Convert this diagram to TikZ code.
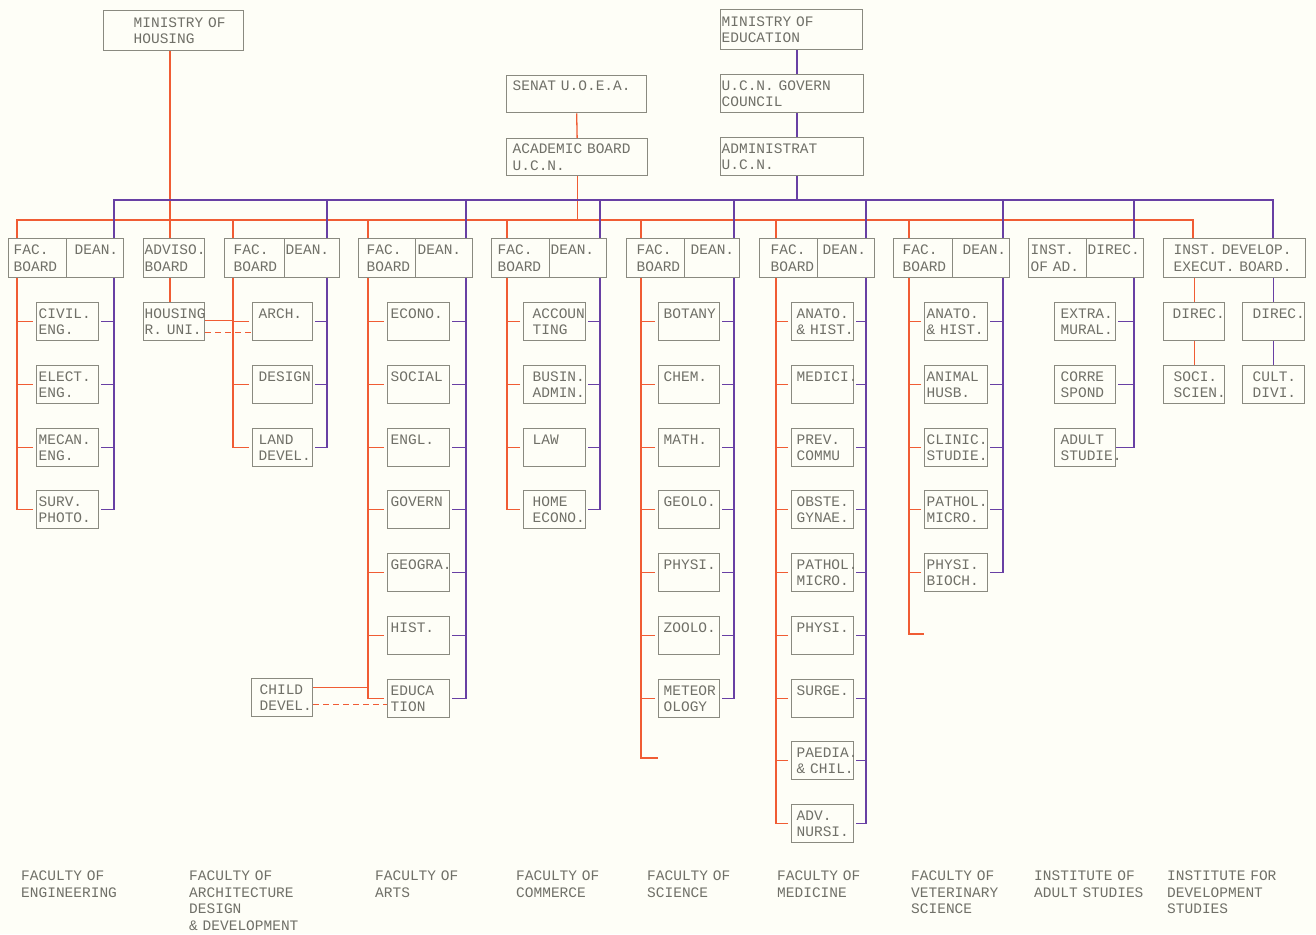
\documentclass[tikz,border=0pt]{standalone}
\usepackage{fontspec}
\newfontfamily\typewr{Liberation Mono}
\newcommand\typer{\typewr\fontsize{14.5}{16.5}\selectfont}
\definecolor{paper}{RGB}{254,254,247}
\definecolor{ink}{RGB}{112,112,104}
\definecolor{boxgray}{RGB}{138,138,128}
\definecolor{wire}{RGB}{240,92,52}
\definecolor{dean}{RGB}{104,64,164}

\begin{document}
\begin{tikzpicture}[x=1pt,y=-1pt,
    cell/.style 2 args={draw=boxgray, line width=1.3pt, fill=paper, anchor=north west,
      text=ink, font=\typer, align=left, inner ysep=2.5pt, minimum height=38pt,
      text height=9.5pt, text depth=16.5pt, inner xsep=#1pt,
      /utils/exec={\pgfmathsetmacro\cellw{#2-2*#1}}, text width=\cellw pt},
    kid/.style={cell={#1}{62}},
    head/.style 2 args={cell={#1}{#2}, minimum height=39pt},
    redl/.style={draw=wire, line width=1.3pt},
    purl/.style={draw=dean, line width=1.3pt},
    tag/.style={anchor=north west, inner sep=0pt, text=ink, font=\typer, align=left,
      text width=120pt, text height=9.5pt}]
    \fill[paper] (0,0) rectangle (1316,934);
    \useasboundingbox (0,0) rectangle (1316,934);
    % --- spines and buses ---
    \coordinate (rb) at (0,220);   \coordinate (pb) at (0,200);
    \coordinate (reng) at (17,0);  \coordinate (peng) at (114,0);
    \coordinate (rhou) at (170,0);
    \coordinate (rarc) at (233,0); \coordinate (parc) at (327,0);
    \coordinate (rart) at (368,0); \coordinate (part) at (466,0);
    \coordinate (rcom) at (507,0); \coordinate (pcom) at (600,0);
    \coordinate (rsci) at (641,0); \coordinate (psci) at (734,0);
    \coordinate (rmed) at (776,0); \coordinate (pmed) at (866,0);
    \coordinate (rvet) at (909,0); \coordinate (pvet) at (1003,0);
    \coordinate (padl) at (1134,0);
    \coordinate (rdev) at (1193,0); \coordinate (pdev) at (1273,0);
    \coordinate (ptop) at (797,0);
    \coordinate (send) at (658,758); \coordinate (vend) at (924,634);

    % --- top of the chart ---
    \node[cell={30}{140}, minimum height=40pt] (minH) at (103,10) {MINISTRY~OF\\HOUSING};
    \node[cell={1}{142}, minimum height=40pt] (minE) at (720,9) {MINISTRY~OF\\EDUCATION};
    \node[cell={6}{140}, minimum height=37pt] (senat) at (506,75) {SENAT~U.O.E.A.};
    \node[cell={6}{141}, minimum height=37pt] (acad) at (506,138) {ACADEMIC~BOARD\\U.C.N.};
    \node[cell={1}{143}] (ucn) at (720,74) {U.C.N.~GOVERN\\COUNCIL};
    \node[cell={1}{143}] (admin) at (720,137) {ADMINISTRAT\\U.C.N.};

    % --- boards and deans ---
    \node[head={5}{58}] (beng) at (8,238) {FAC.\\BOARD};
    \node[head={8}{57}] (deng) at (66,238) {DEAN.};
    \node[head={1}{61}] (badv) at (143,238) {ADVISO.\\BOARD};
    \node[head={9}{60}] (barc) at (224,238) {FAC.\\BOARD};
    \node[head={1}{55}] (darc) at (284,238) {DEAN.};
    \node[head={8}{57}] (bart) at (358,238) {FAC.\\BOARD};
    \node[head={2}{57}] (dart) at (415,238) {DEAN.};
    \node[head={6}{58}] (bcom) at (491,238) {FAC.\\BOARD};
    \node[head={1}{57}] (dcom) at (549,238) {DEAN.};
    \node[head={10}{58}] (bsci) at (626,238) {FAC.\\BOARD};
    \node[head={6}{55}] (dsci) at (684,238) {DEAN.};
    \node[head={11}{58}] (bmed) at (759,238) {FAC.\\BOARD};
    \node[head={5}{57}] (dmed) at (817,238) {DEAN.};
    \node[head={9}{59}] (bvet) at (893,238) {FAC.\\BOARD};
    \node[head={10}{57}] (dvet) at (952,238) {DEAN.};
    \node[head={2}{58}] (badl) at (1028,238) {INST.\\OF~AD.};
    \node[head={1}{57}] (dadl) at (1086,238) {DIREC.};
    \node[head={10}{142}] (bdev) at (1163,238) {INST.~DEVELOP.\\EXECUT.~BOARD.};

    % --- departments ---
    \foreach \lbl [count=\k] in {{CIVIL.\\ENG.},{ELECT.\\ENG.},{MECAN.\\ENG.},{SURV.\\PHOTO.}}
      \node[kid={2}] (eng\k) at (36,{round(302+62.75*(\k-1))}) {\lbl};
    \foreach \lbl [count=\k] in {{ARCH.},{DESIGN},{LAND\\DEVEL.}}
      \node[cell={6}{60}] (arc\k) at (252,{round(302+62.75*(\k-1))}) {\lbl};
    \foreach \lbl [count=\k] in {{ECONO.},{SOCIAL},{ENGL.},{GOVERN},{GEOGRA.},{HIST.},{EDUCA\\TION}}
      \node[kid={3}] (art\k) at (387,{round(302+62.75*(\k-1))}) {\lbl};
    \foreach \lbl [count=\k] in {{ACCOUN\\TING},{BUSIN.\\ADMIN.},{LAW},{HOME\\ECONO.}}
      \node[kid={9}] (com\k) at (523,{round(302+62.75*(\k-1))}) {\lbl};
    \foreach \lbl [count=\k] in {{BOTANY},{CHEM.},{MATH.},{GEOLO.},{PHYSI.},{ZOOLO.},{METEOR\\OLOGY}}
      \node[cell={5}{61}] (sci\k) at (658,{round(302+62.75*(\k-1))}) {\lbl};
    \foreach \lbl [count=\k] in {{ANATO.\\\&~HIST.},{MEDICI.},{PREV.\\COMMU},{OBSTE.\\GYNAE.},
        {PATHOL.\\MICRO.},{PHYSI.},{SURGE.},{PAEDIA.\\\&~CHIL.},{ADV.\\NURSI.}}
      \node[kid={5}] (med\k) at (791,{round(302+62.75*(\k-1))}) {\lbl};
    \foreach \lbl [count=\k] in {{ANATO.\\\&~HIST.},{ANIMAL\\HUSB.},{CLINIC.\\STUDIE.},
        {PATHOL.\\MICRO.},{PHYSI.\\BIOCH.}}
      \node[cell={2}{63}] (vet\k) at (924,{round(302+62.75*(\k-1))}) {\lbl};
    \foreach \lbl [count=\k] in {{EXTRA.\\MURAL.},{CORRE\\SPOND},{ADULT\\STUDIE.}}
      \node[cell={6}{61}] (adl\k) at (1054,{round(302+62.75*(\k-1))}) {\lbl};
    \node[cell={9}{61}] (dev1) at (1163,302) {DIREC.};
    \node[cell={10}{61}] (dev2) at (1163,365) {SOCI.\\SCIEN.};
    \node[cell={10}{62}] (dev3) at (1242,302) {DIREC.};
    \node[cell={10}{62}] (dev4) at (1242,365) {CULT.\\DIVI.};
    \node[cell={1}{61}] (hous) at (143,302) {HOUSING\\R.~UNI.};
    \node[cell={8}{61}] (child) at (251,678) {CHILD\\DEVEL.};

    % --- red lines (academic) ---
    \draw[redl] (minH.south -| rhou) -- (badv.north -| rhou);
    \draw[redl] (badv.south -| rhou) -- (hous.north -| rhou);
    \draw[redl] (senat.south) -- (acad.north);
    \draw[redl] (acad.south) -- (acad.south |- rb);
    \draw[redl] (beng.north -| reng) |- (rb -| rdev) -- (bdev.north -| rdev);
    \draw[redl] (bdev.south -| dev1.north) -- (dev1.north);
    \draw[redl] (dev1.south) -- (dev2.north);
    \draw[redl] (bsci.south -| rsci) |- (send);
    \draw[redl] (bvet.south -| rvet) |- (vend);
    \draw[redl] ([yshift=1pt]hous.east) -- ([yshift=1pt]hous.east -| rarc);
    \draw[redl, dash pattern=on 6pt off 4pt] ([yshift=-11pt]hous.east) -- ([yshift=-11pt]hous.east -| arc1.west);
    \draw[redl] ([yshift=10pt]child.east) -- ([yshift=10pt]child.east -| rart);
    \draw[redl, dash pattern=on 6pt off 4pt] ([yshift=-7pt]child.east) -- ([yshift=-7pt]child.east -| art7.west);

    % --- purple lines (administration) ---
    \draw[purl] (minE.south -| ptop) -- (ucn.north -| ptop);
    \draw[purl] (ucn.south -| ptop) -- (admin.north -| ptop);
    \draw[purl] (admin.south -| ptop) -- (ptop |- pb);
    \draw[purl] (deng.north -| peng) |- (pb -| pdev) -- (bdev.north -| pdev);
    \draw[purl] (bdev.south -| dev3.north) -- (dev3.north);
    \draw[purl] (dev3.south) -- (dev4.north);
    \draw[purl] (pb -| padl) -- (dadl.north -| padl);
    \draw[purl] (dadl.south -| padl) |- (adl3.east);
    \foreach \k in {1,2,3}
      \draw[purl, shorten <=2pt] (adl\k.east) -- (adl\k.east -| padl);

    \foreach \fc/\n in {eng/4,arc/3,art/7,com/4,sci/7,med/9,vet/5}{
      \draw[redl, shorten >=3pt] (b\fc.south -| r\fc) |- (\fc\n.west);
      \draw[purl, shorten >=2pt] (d\fc.south -| p\fc) |- (\fc\n.east);
      \foreach \k in {1,...,\n}{
        \draw[redl, shorten <=3pt] (\fc\k.west) -- (\fc\k.west -| r\fc);
        \draw[purl, shorten <=2pt] (\fc\k.east) -- (\fc\k.east -| p\fc);
      }
    }
    \foreach \fc in {arc,art,com,sci,med,vet}{
      \draw[redl] (rb -| r\fc) -- (b\fc.north -| r\fc);
      \draw[purl] (pb -| p\fc) -- (d\fc.north -| p\fc);
    }

    % --- faculty names ---
    \node[tag] (tEng) at (21,871) {FACULTY~OF\\ENGINEERING};
    \node[tag] (tArc) at (189,871) {FACULTY~OF\\ARCHITECTURE\\DESIGN\\\&~DEVELOPMENT};
    \node[tag] (tArt) at (375,871) {FACULTY~OF\\ARTS};
    \node[tag] (tCom) at (516,871) {FACULTY~OF\\COMMERCE};
    \node[tag] (tSci) at (647,871) {FACULTY~OF\\SCIENCE};
    \node[tag] (tMed) at (777,871) {FACULTY~OF\\MEDICINE};
    \node[tag] (tVet) at (911,871) {FACULTY~OF\\VETERINARY\\SCIENCE};
    \node[tag] (tAdl) at (1034,871) {INSTITUTE~OF\\ADULT~STUDIES};
    \node[tag] (tDev) at (1167,871) {INSTITUTE~FOR\\DEVELOPMENT\\STUDIES};
\end{tikzpicture}
\end{document}
